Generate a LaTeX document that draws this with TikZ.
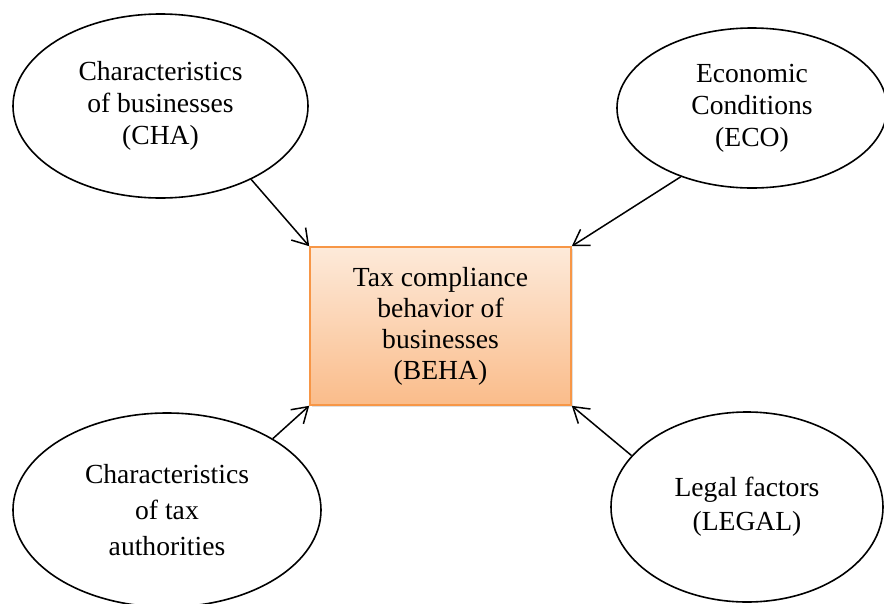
\documentclass[tikz,border=0pt]{standalone}
\usepackage{fontspec}
\setmainfont{Liberation Serif}
\usetikzlibrary{shapes.geometric,arrows.meta,shadows}
\definecolor{boxborder}{RGB}{247,150,70}
\definecolor{boxtop}{RGB}{253,234,218}
\definecolor{boxbottom}{RGB}{250,188,138}
\tikzset{
  oval/.style={ellipse, draw=black, line width=1.6pt, inner sep=0pt, align=center,
    font=\fontsize{27.6}{32}\selectfont},
  mainbox/.style={rectangle, draw=boxborder, line width=1.6pt, top color=boxtop,
    bottom color=boxbottom, align=center, inner sep=0pt,
    font=\fontsize{27.6}{31}\selectfont,
    drop shadow={shadow xshift=1.5pt, shadow yshift=-1.5pt, opacity=0.25, fill=black!50}},
  link/.style={line width=1.5pt, -{Straight Barb[length=15pt,width=19pt,line width=1.5pt]}}
}
\begin{document}
\begin{tikzpicture}[x=1pt,y=-1pt]
\useasboundingbox (0,0) rectangle (884,603);
\node[mainbox, minimum width=261pt, minimum height=158pt] (beha) at (440.5,326)
  {Tax compliance\\behavior of\\businesses\\(BEHA)};
\node[oval, minimum width=295pt, minimum height=184pt] (cha) at (160.5,106)
  {Characteristics\\of businesses\\(CHA)};
\node[oval, minimum width=270pt, minimum height=160pt] (eco) at (752,108)
  {Economic\\Conditions\\(ECO)};
\node[oval, minimum width=308pt, minimum height=194pt,
  font=\fontsize{27.6}{36}\selectfont] (tax) at (167,510)
  {Characteristics\\of tax\\authorities};
\node[oval, minimum width=272pt, minimum height=190pt,
  font=\fontsize{27.6}{34}\selectfont] (legal) at (747,507)
  {Legal factors\\(LEGAL)};
\draw[link] (cha.-39) -- (beha.north west);
\draw[link] (eco.-136) -- (beha.north east);
\draw[link] (tax.34) -- (beha.south west);
\draw[link] (legal.156.7) -- (beha.south east);
\end{tikzpicture}
\end{document}
